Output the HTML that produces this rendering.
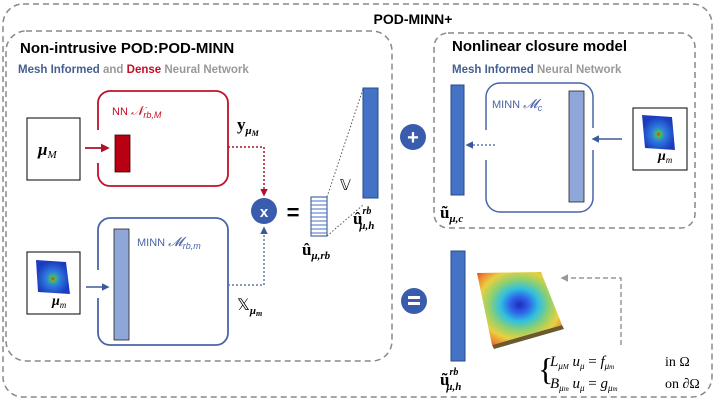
<!DOCTYPE html>
<html><head><meta charset="utf-8"><style>
html,body{margin:0;padding:0;background:#fff;width:720px;height:405px;overflow:hidden}
svg{display:block}
.t{font-family:"Liberation Sans",sans-serif;font-weight:bold}
.m{font-family:"Liberation Serif",serif}
</style></head><body>
<svg width="720" height="405" viewBox="0 0 720 405" xmlns="http://www.w3.org/2000/svg">
<defs>
<radialGradient id="hm" cx="0.5" cy="0.55" r="0.5">
<stop offset="0" stop-color="#f03010"/><stop offset="0.15" stop-color="#40c060"/><stop offset="0.4" stop-color="#2f7ee0"/><stop offset="1" stop-color="#1c3cc0"/></radialGradient>
<radialGradient id="surf" cx="0.5" cy="0.45" r="0.7">
<stop offset="0" stop-color="#1a2fb8"/><stop offset="0.15" stop-color="#2f5ee8"/><stop offset="0.32" stop-color="#30c0e0"/><stop offset="0.5" stop-color="#8ed070"/><stop offset="0.68" stop-color="#e8d040"/><stop offset="0.85" stop-color="#f08030"/><stop offset="1" stop-color="#d83018"/></radialGradient>
<marker id="ar" markerWidth="5" markerHeight="5" refX="4" refY="2.5" orient="auto"><path d="M0,0 L5,2.5 L0,5z" fill="#b0102a"/></marker>
<marker id="ab" markerWidth="5" markerHeight="5" refX="4" refY="2.5" orient="auto"><path d="M0,0 L5,2.5 L0,5z" fill="#3b5a9a"/></marker>
<marker id="ag" markerWidth="5" markerHeight="5" refX="4" refY="2.5" orient="auto"><path d="M0,0 L5,2.5 L0,5z" fill="#999"/></marker>
</defs>
<g fill="none" stroke="#888" stroke-width="1.5" stroke-dasharray="6,4">
<rect x="3" y="4" width="709" height="393" rx="20"/>
<rect x="6" y="31" width="386" height="330" rx="20"/>
<rect x="434" y="33" width="261" height="195" rx="14"/>
</g>
<text class="t" x="413" y="24" font-size="14" text-anchor="middle">POD-MINN+</text>
<text class="t" x="20" y="53" font-size="15">Non-intrusive POD:POD-MINN</text>
<text class="t" x="18" y="73" font-size="11.5"><tspan fill="#44608f">Mesh Informed</tspan><tspan fill="#999"> and </tspan><tspan fill="#c0102a">Dense</tspan><tspan fill="#999"> Neural Network</tspan></text>
<text class="t" x="452" y="51" font-size="15">Nonlinear closure model</text>
<text class="t" x="452" y="73" font-size="11.5"><tspan fill="#44608f">Mesh Informed</tspan><tspan fill="#999"> Neural Network</tspan></text>

<rect x="27" y="118" width="53" height="62" fill="#fff" stroke="#000" stroke-width="1"/>
<text class="m" x="38" y="155" font-size="17" font-weight="bold" font-style="italic">μ<tspan font-size="11" dy="3" font-weight="normal">M</tspan></text>
<path d="M98,130 V103 a12,12 0 0 1 12,-12 H216 a12,12 0 0 1 12,12 V174 a12,12 0 0 1 -12,12 H110 a12,12 0 0 1 -12,-12 V163" fill="none" stroke="#c0102a" stroke-width="1.8"/>
<line x1="85" y1="148" x2="108" y2="148" stroke="#b0102a" stroke-width="1.8" marker-end="url(#ar)"/>
<rect x="115" y="135" width="15" height="37" fill="#b80012" stroke="#400" stroke-width="0.8"/>
<text x="112" y="115" font-size="11" fill="#c0102a" font-family="Liberation Sans,sans-serif">NN <tspan font-family="Liberation Serif,serif" font-style="italic" font-size="13">𝒩</tspan><tspan font-size="9" dy="3" font-style="italic">rb,M</tspan></text>
<text class="m" x="237" y="130" font-size="17" font-weight="bold">y<tspan font-size="11" dy="4" font-style="italic">μ<tspan font-size="8" dy="2">M</tspan></tspan></text>
<path d="M228,147 H264 V195" fill="none" stroke="#b0102a" stroke-width="1.5" stroke-dasharray="2,2" marker-end="url(#ar)"/>
<circle cx="264" cy="211" r="13" fill="#3a5cad"/>
<text class="t" x="264" y="217" font-size="15" fill="#fff" text-anchor="middle">x</text>
<text class="t" x="293" y="220" font-size="22" text-anchor="middle">=</text>
<rect x="311" y="197" width="16" height="39" fill="#fff" stroke="#2a4a8a" stroke-width="1"/>
<g stroke="#4472c4" stroke-width="1">
<line x1="311" y1="201" x2="327" y2="201"/><line x1="311" y1="205" x2="327" y2="205"/><line x1="311" y1="209" x2="327" y2="209"/><line x1="311" y1="213" x2="327" y2="213"/><line x1="311" y1="217" x2="327" y2="217"/><line x1="311" y1="221" x2="327" y2="221"/><line x1="311" y1="225" x2="327" y2="225"/><line x1="311" y1="229" x2="327" y2="229"/><line x1="311" y1="233" x2="327" y2="233"/></g>
<line x1="327" y1="197" x2="363" y2="89" stroke="#555" stroke-width="1" stroke-dasharray="1.5,2"/>
<line x1="327" y1="236" x2="363" y2="205" stroke="#555" stroke-width="1" stroke-dasharray="1.5,2"/>
<rect x="363" y="88" width="15" height="110" fill="#4472c4" stroke="#2a4a8a" stroke-width="1"/>
<text class="m" x="340" y="190" font-size="15">𝕍</text>
<text class="m" x="353" y="224" font-size="17" font-weight="bold">û<tspan font-size="10" dy="-10" font-style="italic">rb</tspan><tspan font-size="11" dx="-12" dy="15" font-style="italic">μ,h</tspan></text>
<text class="m" x="302" y="255" font-size="17" font-weight="bold">û<tspan font-size="11" dy="4" font-style="italic">μ,rb</tspan></text>

<rect x="27" y="252" width="53" height="62" fill="#fff" stroke="#000" stroke-width="1"/>
<polygon points="36,260 66,262 70,294 38,292" fill="url(#hm)"/>
<text class="m" x="52" y="305" font-size="14" font-weight="bold" font-style="italic">μ<tspan font-size="9" dy="3" font-weight="normal">m</tspan></text>
<path d="M98,270 V230 a12,12 0 0 1 12,-12 H216 a12,12 0 0 1 12,12 V333 a12,12 0 0 1 -12,12 H110 a12,12 0 0 1 -12,-12 V298" fill="none" stroke="#4a64a8" stroke-width="1.8"/>
<line x1="86" y1="287" x2="108" y2="287" stroke="#3b5a9a" stroke-width="1.5" marker-end="url(#ab)"/>
<rect x="114" y="229" width="15" height="111" fill="#8fa7d8" stroke="#222" stroke-width="0.8"/>
<text x="137" y="246" font-size="11" fill="#4a64a8" font-family="Liberation Sans,sans-serif">MINN <tspan font-family="Liberation Serif,serif" font-style="italic" font-size="13">𝓜</tspan><tspan font-size="9" dy="3" font-style="italic">rb,m</tspan></text>
<path d="M228,285 H264 V228" fill="none" stroke="#6078a8" stroke-width="1.5" stroke-dasharray="2,2" marker-end="url(#ab)"/>
<text class="m" x="237" y="310" font-size="16">𝕏<tspan font-size="11" dy="4" font-weight="bold" font-style="italic">μ<tspan font-size="8" dy="2">m</tspan></tspan></text>

<circle cx="413" cy="137" r="13" fill="#3a5cad"/>
<text class="t" x="413" y="144" font-size="20" fill="#fff" text-anchor="middle">+</text>
<rect x="451" y="85" width="13" height="110" fill="#4472c4" stroke="#2a4a8a" stroke-width="1"/>
<path d="M486,130 V97 a14,14 0 0 1 14,-14 H579 a14,14 0 0 1 14,14 V128 M593,150 V198 a14,14 0 0 1 -14,14 H500 a14,14 0 0 1 -14,-14 V160" fill="none" stroke="#4a64a8" stroke-width="1.5"/>
<rect x="569" y="91" width="15" height="111" fill="#8fa7d8" stroke="#222" stroke-width="0.8"/>
<text x="492" y="108" font-size="11" fill="#4a64a8" font-family="Liberation Sans,sans-serif">MINN <tspan font-family="Liberation Serif,serif" font-style="italic" font-size="13">𝓜</tspan><tspan font-size="9" dy="3" font-style="italic">c</tspan></text>
<line x1="495" y1="145" x2="467" y2="145" stroke="#6078a8" stroke-width="1.5" stroke-dasharray="2,2" marker-end="url(#ab)"/>
<line x1="622" y1="139" x2="593" y2="139" stroke="#3b5a9a" stroke-width="1.5" marker-end="url(#ab)"/>
<rect x="633" y="108" width="54" height="62" fill="#fff" stroke="#000" stroke-width="1"/>
<polygon points="642,115 672,117 675,150 645,148" fill="url(#hm)"/>
<text class="m" x="658" y="160" font-size="14" font-weight="bold" font-style="italic">μ<tspan font-size="9" dy="3" font-weight="normal">m</tspan></text>
<text class="m" x="440" y="218" font-size="17" font-weight="bold">ũ<tspan font-size="11" dy="4" font-style="italic">μ,c</tspan></text>

<circle cx="414" cy="301" r="13" fill="#3a5cad"/>
<rect x="408" y="296" width="12" height="3" fill="#fff"/><rect x="408" y="302" width="12" height="3" fill="#fff"/>
<rect x="451" y="251" width="14" height="110" fill="#4472c4" stroke="#2a4a8a" stroke-width="1"/>
<text class="m" x="440" y="385" font-size="17" font-weight="bold">ũ<tspan font-size="10" dy="-10" font-style="italic">rb</tspan><tspan font-size="11" dx="-12" dy="15" font-style="italic">μ,h</tspan></text>
<polygon points="492,345 562,325 564,329 494,349" fill="#6a5a30"/>
<polygon points="477,273 541,272 562,325 492,345" fill="url(#surf)"/>
<path d="M621,345 V278 H562" fill="none" stroke="#999" stroke-width="1.5" stroke-dasharray="5,3" marker-end="url(#ag)"/>
<text class="m" x="538" y="380" font-size="32">{</text>
<text class="m" x="550" y="366" font-size="15" font-style="italic">L<tspan font-size="9" dy="3">μ<tspan font-size="7">M</tspan></tspan><tspan dy="-3"> u</tspan><tspan font-size="9" dy="3">μ</tspan><tspan dy="-3" font-style="normal"> = </tspan>f<tspan font-size="9" dy="3">μ<tspan font-size="7">m</tspan></tspan></text>
<text class="m" x="665" y="366" font-size="14">in Ω</text>
<text class="m" x="550" y="388" font-size="15" font-style="italic">B<tspan font-size="9" dy="3">μ<tspan font-size="7">m</tspan></tspan><tspan dy="-3"> u</tspan><tspan font-size="9" dy="3">μ</tspan><tspan dy="-3" font-style="normal"> = </tspan>g<tspan font-size="9" dy="3">μ<tspan font-size="7">m</tspan></tspan></text>
<text class="m" x="665" y="388" font-size="14">on ∂Ω</text>
</svg>
</body></html>
